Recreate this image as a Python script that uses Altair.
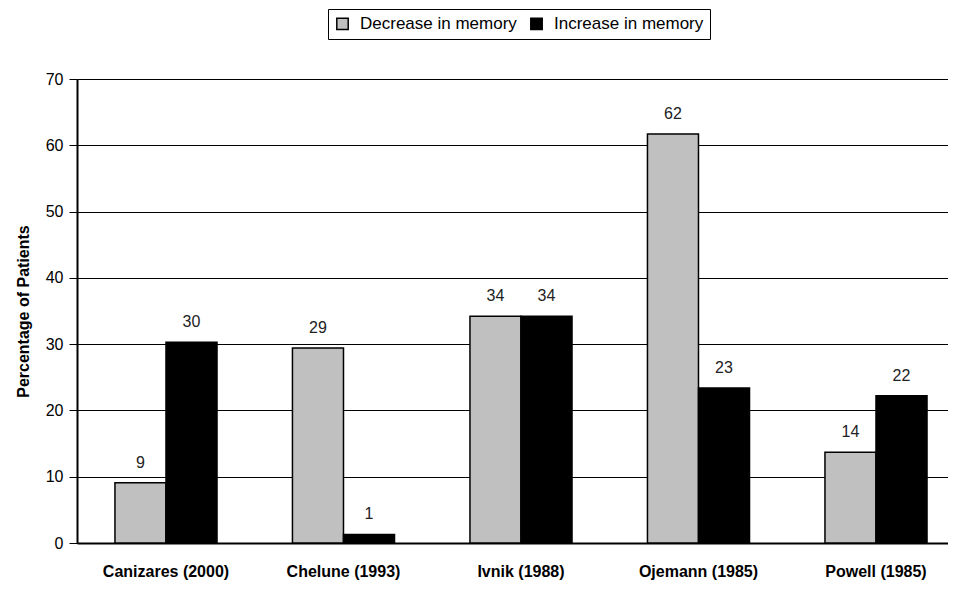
import altair as alt
import pandas as pd

studies = ["Canizares (2000)", "Chelune (1993)", "Ivnik (1988)", "Ojemann (1985)", "Powell (1985)"]
decrease = [9.1, 29.4, 34.2, 61.7, 13.7]
increase = [30.3, 1.3, 34.2, 23.4, 22.2]
decrease_labels = [9, 29, 34, 62, 14]
increase_labels = [30, 1, 34, 23, 22]
series = ["Decrease in memory", "Increase in memory"]
colors = ["#c0c0c0", "#000000"]

rows = []
for i, s in enumerate(studies):
    rows.append({"study": s, "series": series[0], "value": decrease[i], "label": decrease_labels[i]})
    rows.append({"study": s, "series": series[1], "value": increase[i], "label": increase_labels[i]})
df = pd.DataFrame(rows)

FONT = "Liberation Sans"

x = alt.X("study:N", sort=studies, title=None,
          scale=alt.Scale(paddingInner=0.425, paddingOuter=0.166, align=0.644),
          axis=alt.Axis(labelFont=FONT, labelFontWeight="bold", labelFontSize=16,
                        labelColor="#000", labelAngle=0, ticks=False, domainColor="#000",
                        domainWidth=2, labelPadding=20))
y = alt.Y("value:Q", title="Percentage of Patients",
          scale=alt.Scale(domain=[0, 70], nice=False),
          axis=alt.Axis(values=[0, 10, 20, 30, 40, 50, 60, 70], labelFont=FONT, labelFontSize=16,
                        labelColor="#000", titleFont=FONT, titleFontSize=16, titleFontWeight="bold",
                        titleColor="#000", gridColor="#000", gridOpacity=1, gridWidth=1,
                        domainColor="#000", domainWidth=2, tickColor="#000", tickSize=8,
                        labelPadding=6, titlePadding=14))

color = alt.Color("series:N", sort=series, scale=alt.Scale(domain=series, range=colors),
                  legend=alt.Legend(title=None, orient="none", legendX=251, legendY=-70,
                                    direction="horizontal", strokeColor="#000",
                                    padding=6, labelFont=FONT, labelFontSize=17, labelColor="#000",
                                    symbolType="square", symbolSize=130, symbolStrokeColor="#000",
                                    symbolStrokeWidth=1.5, columnPadding=10, labelLimit=300,
                                    symbolOpacity=1, labelOffset=9))

bars = alt.Chart(df).mark_bar(stroke="#000", strokeWidth=1.5).encode(
    x=x, y=y, color=color, xOffset=alt.XOffset("series:N", sort=series)
)
labels = alt.Chart(df).mark_text(dy=-20, font=FONT, fontSize=16, color="#222").encode(
    x=alt.X("study:N", sort=studies), y="value:Q",
    xOffset=alt.XOffset("series:N", sort=series), text="label:N"
)

chart = alt.layer(bars, labels).properties(
    width=871, height=464,
    autosize=alt.AutoSizeParams(type="none"),
    padding={"left": 69, "top": 71, "right": 0, "bottom": 38},
).configure_view(stroke=None).configure(background="#ffffff")

chart.save("out.html", embed_options={"renderer": "svg", "actions": False})
